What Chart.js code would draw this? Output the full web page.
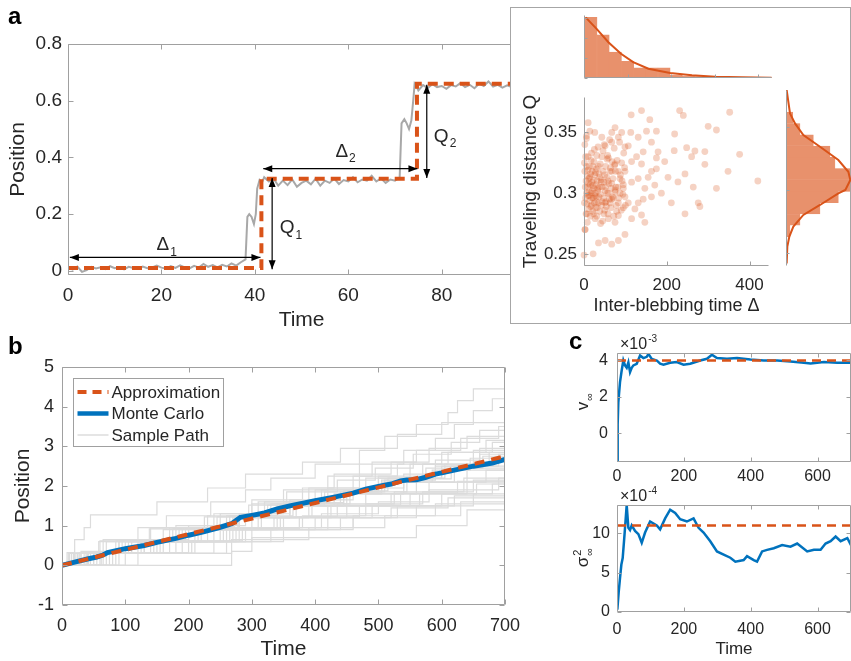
<!DOCTYPE html>
<html>
<head>
<meta charset="utf-8">
<script src="https://cdn.jsdelivr.net/npm/chart.js@4.4.1/dist/chart.umd.min.js"></script>
<style>
  body { margin: 0; background: #fff; }
  #page { position: relative; width: 851px; height: 661px; overflow: hidden; background: #fff; }
  canvas { position: absolute; }
  .lbl { position: absolute; font: bold 24px "Liberation Sans", Arial, sans-serif; line-height: 1; color: #000; }
  #inset { position: absolute; left: 510px; top: 7px; width: 339px; height: 315px; border: 1px solid #a6a6a6; background: #fff; }
</style>
</head>
<body>
<div id="page">
  <canvas id="ca" style="left:0;top:0" width="560" height="340"></canvas>
  <div id="inset"></div>
  <canvas id="hx" style="left:505px;top:0" width="275" height="85"></canvas>
  <canvas id="sc" style="left:505px;top:80px" width="275" height="240"></canvas>
  <canvas id="hy" style="left:780px;top:80px" width="75" height="190"></canvas>
  <canvas id="cb" style="left:0;top:340px" width="560" height="321"></canvas>
  <canvas id="c1" style="left:560px;top:330px" width="295" height="165"></canvas>
  <canvas id="c2" style="left:560px;top:480px" width="295" height="181"></canvas>
  <div class="lbl" style="left:8px;top:4px">a</div>
  <div class="lbl" style="left:8px;top:334px">b</div>
  <div class="lbl" style="left:569px;top:329px">c</div>
</div>
<script>
// ---- data ----

// panel a: one blebbing trace (time, position)
const traceA = [[0,0.012],[1,0.004],[2,0.015],[3,-0.004],[4,0.002],[5,0.014],[6,0.008],[7,0.012],[8,0.006],[9,0.016],
  [10,0.009],[11,0.013],[12,0.005],[13,0.014],[14,0.01],[15,0.007],[16,0.015],[17,0.009],[18,0.012],[19,0.018],
  [20,0.011],[21,0.007],[22,0.016],[23,0.01],[24,0.019],[25,0.012],[26,0.008],[27,0.017],[28,0.011],[29,0.024],
  [30,0.014],[31,0.02],[32,0.012],[33,0.021],[34,0.015],[35,0.026],[36,0.018],[37,0.03],[38,0.04],
  [38.4,0.19],[38.8,0.2],[39.3,0.19],[39.8,0.165],[40.2,0.2],[40.5,0.29],[41,0.32],[41.5,0.31],[42,0.33],[43,0.315],
  [44,0.326],[45,0.3],[46,0.318],[47,0.302],[48,0.322],[49,0.296],[50,0.31],[51,0.318],[52,0.305],[53,0.325],
  [54,0.3],[55,0.318],[56,0.31],[57,0.325],[58,0.306],[59,0.32],[60,0.315],[61,0.33],[62,0.312],[63,0.322],
  [64,0.318],[65,0.335],[66,0.315],[67,0.326],[68,0.31],[69,0.322],[70,0.318],[71,0.33],
  [71.4,0.52],[72,0.535],[72.5,0.52],[73,0.5],[73.5,0.53],[73.9,0.6],[74.2,0.66],[74.6,0.65],[75,0.636],
  [76,0.655],[77,0.645],[78,0.658],[79,0.648],[80,0.652],[81,0.642],[82,0.655],[83,0.65],[84,0.662],[85,0.648],
  [86,0.656],[87,0.644],[88,0.66],[89,0.652],[90,0.668],[91,0.65],[92,0.656],[93,0.646],[94,0.654],[95,0.648],
  [96,0.66],[97,0.65],[98,0.655],[99,0.645],[100,0.652]];
// step approximation: jump times and levels
const stepA = [[0,0.01],[41.4,0.325],[74.7,0.66],[100,0.66]];
const arrowsA = [[0.4,0.047,41.2,0.047],[41.8,0.36,74.8,0.36],[43.7,0.005,43.7,0.327],[76.8,0.327,76.8,0.656]];
const notesA = [['Δ','1',20.3,0.096],['Δ','2',58.6,0.427],['Q','1',46.9,0.156],['Q','2',79.9,0.48]];

// inset: inter-blebbing time vs traveling distance
const blebPts = [[2,0.318],[3,0.305],[4,0.296],[5,0.31],[5,0.283],[6,0.322],[6,0.3],[7,0.291],[8,0.314],[8,0.276],
  [9,0.305],[10,0.33],[10,0.298],[11,0.287],[12,0.312],[12,0.301],[13,0.322],[14,0.294],[15,0.307],[15,0.281],
  [16,0.316],[17,0.3],[18,0.333],[18,0.29],[19,0.309],[20,0.302],[20,0.318],[21,0.285],[22,0.296],[23,0.311],
  [24,0.326],[24,0.304],[25,0.292],[26,0.315],[27,0.3],[28,0.288],[29,0.307],[30,0.32],[30,0.297],[31,0.281],
  [32,0.31],[33,0.302],[34,0.338],[35,0.292],[36,0.316],[37,0.305],[38,0.285],[39,0.324],[40,0.299],[41,0.311],
  [42,0.29],[43,0.33],[44,0.305],[45,0.277],[46,0.318],[47,0.296],[48,0.309],[49,0.34],[50,0.286],[51,0.302],
  [52,0.322],[53,0.293],[55,0.313],[56,0.3],[57,0.331],[58,0.283],[60,0.308],[61,0.295],[62,0.344],[63,0.318],
  [65,0.288],[66,0.304],[68,0.326],[69,0.297],[70,0.312],[72,0.281],[73,0.337],[75,0.301],[76,0.318],[78,0.29],
  [80,0.327],[82,0.305],[84,0.296],[86,0.342],[88,0.315],[90,0.286],[92,0.31],[94,0.299],[96,0.333],[98,0.321],
  [100,0.29],[1,0.325],[1,0.292],[2,0.34],[3,0.27],[4,0.33],[6,0.345],[7,0.283],[9,0.319],[11,0.308],
  [13,0.298],[14,0.313],[16,0.289],[17,0.327],[19,0.296],[21,0.306],[22,0.322],[23,0.283],[25,0.336],[26,0.298],
  [27,0.279],[28,0.317],[29,0.293],[31,0.331],[32,0.288],[34,0.304],[35,0.322],[36,0.297],[38,0.313],[40,0.275],
  [42,0.309],[44,0.293],[46,0.335],[48,0.283],[50,0.315],[52,0.305],[54,0.289],[56,0.328],[58,0.31],[59,0.3],
  [63,0.292],[64,0.321],[67,0.308],[71,0.296],[74,0.323],[77,0.305],[79,0.285],[83,0.318],[87,0.3],[91,0.325],
  [95,0.307],[99,0.338],[114,0.3645],[139,0.368],[231,0.368],[240,0.364],[352,0.3666],[300,0.355],[320,0.352],
  [159,0.3605],[75,0.354],[10,0.358],[219,0.3487],[248,0.3374],[268,0.3347],[292,0.3342],[292,0.3237],[260,0.33],
  [244,0.3158],[227,0.3092],[264,0.305],[276,0.292],[280,0.289],[320,0.304],[348,0.318],[376,0.332],[420,0.31],
  [244,0.283],[211,0.292],[203,0.313],[195,0.326],[218,0.335],[187,0.3],[175,0.32],[113,0.35],[131,0.346],
  [151,0.351],[175,0.351],[179,0.334],[175,0.329],[163,0.342],[143,0.334],[127,0.33],[115,0.326],[107,0.339],
  [139,0.324],[163,0.318],[155,0.313],[131,0.312],[115,0.309],[95,0.304],[147,0.304],[171,0.3066],[163,0.297],
  [143,0.295],[131,0.292],[123,0.287],[139,0.282],[147,0.276],[115,0.279],[99,0.266],[83,0.261],[67,0.258],
  [51,0.261],[35,0.259],[22,0.25],[0,0.249],[2,0.27],[95,0.288],[83,0.2816],[75,0.276],[59,0.279],[51,0.292],
  [67,0.295],[83,0.292],[99,0.297],[107,0.292],[75,0.3026],[87,0.312],[99,0.318],[75,0.324],[67,0.318],[59,0.329],
  [51,0.339],[67,0.342],[43,0.346],[26,0.35],[14,0.351],[6,0.347],[91,0.35],[83,0.346],[67,0.35]];
// marginal histogram of inter-blebbing time (bin centres, heights) and fitted exponential
const timeBins = [16,44,72,100,128,156,184,212,240,268,296,324,352,380,408];
const timeCounts = [183,130,78,50,31,31,31,9,6,4,3,2,1.5,1,1];
const timeFitX = [3.8,29,56,85,113,148,198,248,301,362,431];
const timeFitY = [183,148,108,73,48,28,15,8,4,2,1];
// marginal histogram of traveling distance and fitted gaussian
const distBins = [0.2587,0.2677,0.2766,0.2856,0.2945,0.3034,0.3124,0.3213,0.3302,0.3392,0.3481,0.3571];
const distCounts = [3,12,42,102,157,192,192,147,132,82,42,20];
const distFitQ = [0.379,0.3605,0.3526,0.3434,0.3342,0.3237,0.3144,0.3079,0.3,0.2974,0.2882,0.2803,0.2711,0.2632,0.2553,0.2421];
const distFitN = [2,12,27,52,102,157,187,193,178,157,102,52,22,10,4,2];

// panel b: sample paths as (jump time, level)
const samplePaths = [
  [[0,0],[25,0.3],[60,0.62],[120,0.95],[165,1.25],[235,1.6],[290,1.9],[330,2.2],[400,2.55],[470,2.9],[510,3.25],[560,3.55],[610,3.85],[625,4.15],[650,4.45],[700,4.45]],
  [[0,0],[40,0.3],[100,0.6],[140,0.95],[230,1.25],[300,1.55],[350,1.9],[420,2.25],[470,2.55],[540,2.9],[590,3.2],[620,3.55],[650,3.9],[680,4.2],[700,4.2]],
  [[0,0],[8,0.32],[20,0.65],[35,0.95],[45,1.27],[150,1.6],[230,1.95],[290,2.3],[380,2.6],[440,2.95],[530,3.3],[600,3.6],[700,3.6]],
  [[0,0],[55,0.3],[130,0.65],[200,0.95],[280,1.3],[310,1.6],[390,1.95],[460,2.25],[490,2.6],[560,2.9],[630,3.2],[690,3.5],[700,3.5]],
  [[0,0],[30,0.35],[90,0.65],[180,1.0],[240,1.3],[300,1.65],[380,1.95],[430,2.3],[520,2.6],[580,2.95],[640,3.25],[700,3.25]],
  [[0,0],[15,0.3],[70,0.6],[160,0.9],[260,1.25],[340,1.55],[400,1.9],[480,2.2],[550,2.55],[610,2.85],[670,3.15],[700,3.15]],
  [[0,0],[45,0.3],[110,0.6],[190,0.95],[270,1.25],[320,1.6],[410,1.9],[500,2.25],[570,2.55],[650,2.9],[700,2.9]],
  [[0,0],[60,0.32],[150,0.62],[210,0.95],[250,1.3],[350,1.6],[420,1.95],[470,2.25],[530,2.55],[600,2.85],[680,3.1],[700,3.1]],
  [[0,0],[20,0.3],[120,0.6],[230,0.9],[280,1.2],[370,1.5],[450,1.85],[510,2.15],[590,2.5],[660,2.8],[700,2.8]],
  [[0,0],[35,0.32],[65,0.65],[170,0.95],[265,1.25],[330,1.55],[440,1.85],[500,2.2],[600,2.5],[690,2.8],[700,2.8]],
  [[0,0],[50,0.3],[140,0.6],[220,0.9],[300,1.2],[360,1.5],[430,1.8],[540,2.1],[620,2.45],[700,2.45]],
  [[0,0],[75,0.3],[160,0.6],[240,0.9],[310,1.2],[390,1.5],[480,1.8],[560,2.1],[640,2.4],[700,2.4]],
  [[0,0],[25,0.3],[130,0.6],[260,0.9],[350,1.2],[420,1.5],[520,1.8],[580,2.1],[670,2.4],[700,2.4]],
  [[0,0],[90,0.3],[170,0.6],[255,0.9],[340,1.2],[450,1.5],[550,1.8],[640,2.1],[700,2.1]],
  [[0,0],[40,0.32],[200,0.62],[270,0.95],[380,1.25],[480,1.55],[570,1.85],[650,2.15],[700,2.15]],
  [[0,0],[65,0.3],[180,0.6],[290,0.9],[400,1.2],[490,1.5],[600,1.8],[680,2.05],[700,2.05]],
  [[0,0],[100,0.3],[210,0.6],[275,0.9],[420,1.2],[530,1.5],[620,1.75],[700,1.75]],
  [[0,0],[30,0.3],[240,0.6],[330,0.9],[460,1.2],[560,1.5],[650,1.8],[700,1.8]],
  [[0,0],[120,0.3],[268,0.65],[390,0.95],[510,1.25],[630,1.6],[700,1.6]],
  [[0,0],[268,0.35],[300,0.7],[560,1.0],[640,1.4],[700,1.4]],
  [[0,0],[80,0.3],[260,0.6],[350,0.9],[440,1.2],[520,1.45],[610,1.7],[700,1.7]],
  [[0,0],[10,0.3],[90,0.6],[280,0.95],[460,1.25],[590,1.55],[700,1.55]],
  [[0,0],[50,0.3],[110,0.65],[200,1.0],[290,1.3],[360,1.65],[460,1.95],[540,2.3],[590,2.65],[660,2.95],[700,2.95]],
  [[0,0],[70,0.3],[190,0.6],[300,0.95],[410,1.3],[500,1.6],[580,1.9],[690,2.2],[700,2.2]],
  [[0,0],[18,0.3],[95,0.62],[175,0.92],[245,1.22],[325,1.52],[415,1.85],[505,2.15],[575,2.45],[665,2.75],[700,2.75]],
  [[0,0],[42,0.3],[125,0.6],[215,0.92],[315,1.22],[395,1.55],[455,1.85],[545,2.18],[615,2.5],[700,2.5]],
  [[0,0],[28,0.32],[85,0.62],[195,0.92],[278,1.25],[365,1.58],[445,1.88],[515,2.2],[605,2.55],[675,2.85],[700,2.85]],
  [[0,0],[62,0.3],[145,0.6],[250,0.9],[335,1.2],[425,1.52],[535,1.82],[625,2.12],[700,2.12]],
  [[0,0],[12,0.3],[58,0.6],[138,0.92],[225,1.22],[295,1.52],[355,1.85],[435,2.15],[495,2.45],[555,2.8],[615,3.1],[660,3.4],[700,3.4]],
  [[0,0],[85,0.3],[205,0.62],[285,0.92],[375,1.22],[470,1.5],[565,1.8],[655,2.05],[700,2.05]],
  [[0,0],[38,0.3],[155,0.6],[265,0.92],[345,1.22],[435,1.55],[525,1.85],[635,2.2],[700,2.2]],
  [[0,0],[22,0.3],[105,0.6],[185,0.9],[272,1.2],[360,1.5],[445,1.8],[505,2.1],[585,2.4],[645,2.7],[700,2.7]]
];
const mcT = [0,20,40,55,65,72,100,130,150,180,200,225,250,268,275,282,300,320,340,360,400,430,460,480,500,520,535,545,560,575,590,600,620,650,680,700];
const mcY = [0,0.08,0.16,0.21,0.26,0.32,0.42,0.5,0.58,0.68,0.76,0.85,0.96,1.05,1.13,1.21,1.26,1.32,1.42,1.5,1.63,1.72,1.82,1.92,1.99,2.05,2.13,2.15,2.16,2.22,2.3,2.33,2.4,2.5,2.58,2.67];
const apxT = [0,700];
const apxY = [0,2.75];

// panel c: running estimates (x1e-3 and x1e-4)
const vT = [1,2,4,9,14,19,24,29,34,39,44,49,59,69,79,89,94,104,119,129,139,159,179,199,219,249,269,284,299,329,359,399,439,479,519,559,579,619,659,700];
const vY = [-1.5,0.5,1.72,2.81,3.45,4.0,3.73,3.6,3.9,3.36,3.6,3.73,3.82,4.27,4.13,4.2,4.36,4.09,4.0,3.82,3.77,3.87,3.91,3.77,3.82,4.0,4.09,4.31,4.13,4.09,4.13,4.05,4.0,4.0,3.95,3.87,3.84,3.91,3.87,3.87];
const vTheory = 4.0;
const vTicks = [0, 2, 4];
const sT = [1,5,9,13,17,21,24,29,34,39,44,54,64,74,84,99,119,129,144,159,174,189,209,229,244,259,279,299,319,339,354,379,389,409,419,434,449,469,494,519,539,569,589,609,624,639,654,669,689,700];
const sY = [0.3,2.5,4.3,6.0,6.85,9.0,10.7,13.6,10.7,10.4,11.0,10.3,9.9,8.8,10.1,11.5,11.0,10.5,11.9,13.0,12.6,11.8,11.5,11.9,10.7,10.1,9.0,7.7,7.3,6.9,6.4,6.6,7.1,6.6,6.4,7.7,7.9,8.1,8.5,8.3,8.7,7.7,7.9,7.9,8.7,9.0,9.6,9.0,9.4,8.5];
const sTheory = 11.0;

// ---- styling ----
const FONT = '"Liberation Sans", Arial, Helvetica, sans-serif';
const ORANGE = '#D95319';
const BLUE = '#0072BD';
const HIST = '#e8916c';
const AXIS = '#a0a0a0';
const TXT = '#262626';

Chart.defaults.font.family = FONT;
Chart.defaults.color = TXT;
Chart.defaults.animation = false;
Chart.defaults.responsive = false;
Chart.defaults.plugins.legend.display = false;
Chart.defaults.plugins.tooltip.enabled = false;
Chart.defaults.elements.point.radius = 0;
Chart.defaults.elements.line.tension = 0;

const xy = pts => pts.map(p => ({ x: p[0], y: p[1] }));
const zip = (a, b) => a.map((v, i) => ({ x: v, y: b[i] }));

// linear axis with a fixed band size so plot areas land where they should
function axis(o) {
  return {
    type: 'linear', min: o.min, max: o.max, offset: false,
    grid: { display: false, drawTicks: false }, border: { display: false },
    ticks: { padding: o.pad || 0, font: { size: o.size || 12 },
      display: o.labels !== false, autoSkip: false, maxRotation: 0,
      callback: v => String(+v.toFixed(4)) },
    // ticks at every multiple of the step inside the range
    afterBuildTicks: s => {
      const out = [];
      for (let k = Math.ceil(o.min / o.step - 1e-9); k * o.step <= o.max + 1e-9; k++) {
        out.push({ value: +(k * o.step).toFixed(6) });
      }
      s.ticks = out;
    },
    afterFit: s => { if (s.isHorizontal()) s.height = o.band; else s.width = o.band; },
    title: o.title
      ? { display: true, text: o.title, font: { size: o.tsize, lineHeight: o.lh || 1.2 }, padding: o.tpad }
      : { display: false }
  };
}

// matlab-like frame with inward ticks
const frame = {
  id: 'frame',
  afterDatasetsDraw(chart, args, o) {
    const { ctx, chartArea: a } = chart;
    const sides = o.sides || 'lbtr';
    const len = o.len || 5;
    const sx = chart.scales.x, sy = chart.scales.y;
    const yVals = o.yTicks || sy.ticks.map(t => t.value);
    ctx.save();
    ctx.strokeStyle = AXIS;
    ctx.lineWidth = 1;
    ctx.beginPath();
    const L = Math.round(a.left) + 0.5, R = Math.round(a.right) - 0.5;
    const T = Math.round(a.top) + 0.5, B = Math.round(a.bottom) - 0.5;
    if (sides.includes('l')) { ctx.moveTo(L, T); ctx.lineTo(L, B); }
    if (sides.includes('r')) { ctx.moveTo(R, T); ctx.lineTo(R, B); }
    if (sides.includes('t')) { ctx.moveTo(L, T); ctx.lineTo(R, T); }
    if (sides.includes('b')) { ctx.moveTo(L, B); ctx.lineTo(R, B); }
    sx.ticks.forEach(t => {
      const p = Math.round(sx.getPixelForValue(t.value)) + 0.5;
      if (sides.includes('b')) { ctx.moveTo(p, B); ctx.lineTo(p, B - len); }
      if (sides.includes('t')) { ctx.moveTo(p, T); ctx.lineTo(p, T + len); }
    });
    yVals.forEach(v => {
      const p = Math.round(sy.getPixelForValue(v)) + 0.5;
      if (sides.includes('l')) { ctx.moveTo(L, p); ctx.lineTo(L + len, p); }
      if (sides.includes('r')) { ctx.moveTo(R, p); ctx.lineTo(R - len, p); }
    });
    ctx.stroke();
    // tick labels drawn here when the axis asks for it
    if (o.yLabels) {
      ctx.fillStyle = TXT;
      ctx.font = o.yLabels.size + 'px ' + FONT;
      ctx.textAlign = 'right';
      ctx.textBaseline = 'middle';
      yVals.forEach(v => ctx.fillText(String(v), a.left - o.yLabels.pad, sy.getPixelForValue(v)));
    }
    ctx.restore();
  }
};

// text with sub/superscript, (x, y) is the baseline start (or centre of the whole thing)
function richText(ctx, x, y, base, sub, sup, size, center) {
  const small = Math.round(size * 0.65);
  ctx.font = size + 'px ' + FONT;
  const wb = ctx.measureText(base).width;
  ctx.font = small + 'px ' + FONT;
  const ws = Math.max(sub ? ctx.measureText(sub).width : 0, sup ? ctx.measureText(sup).width : 0);
  const x0 = center ? x - (wb + ws) / 2 : x;
  ctx.textAlign = 'left';
  ctx.textBaseline = 'alphabetic';
  ctx.fillStyle = TXT;
  ctx.font = size + 'px ' + FONT;
  ctx.fillText(base, x0, y);
  ctx.font = small + 'px ' + FONT;
  if (sub) ctx.fillText(sub, x0 + wb + 1, y + size * 0.3);
  if (sup) ctx.fillText(sup, x0 + wb + 1, y - size * 0.42);
}

// double headed arrows and Δ/Q labels for panel a
const annot = {
  id: 'annot',
  afterDatasetsDraw(chart) {
    const { ctx } = chart;
    const sx = chart.scales.x, sy = chart.scales.y;
    ctx.save();
    ctx.strokeStyle = '#000';
    ctx.fillStyle = '#000';
    ctx.lineWidth = 1.2;
    const head = (x, y, ang) => {
      ctx.beginPath();
      ctx.moveTo(x, y);
      ctx.lineTo(x - 9 * Math.cos(ang) + 3.5 * Math.sin(ang), y - 9 * Math.sin(ang) - 3.5 * Math.cos(ang));
      ctx.lineTo(x - 9 * Math.cos(ang) - 3.5 * Math.sin(ang), y - 9 * Math.sin(ang) + 3.5 * Math.cos(ang));
      ctx.closePath();
      ctx.fill();
    };
    arrowsA.forEach(a => {
      const x1 = sx.getPixelForValue(a[0]), y1 = sy.getPixelForValue(a[1]);
      const x2 = sx.getPixelForValue(a[2]), y2 = sy.getPixelForValue(a[3]);
      const ang = Math.atan2(y2 - y1, x2 - x1);
      ctx.beginPath();
      ctx.moveTo(x1, y1);
      ctx.lineTo(x2, y2);
      ctx.stroke();
      head(x2, y2, ang);
      head(x1, y1, ang + Math.PI);
    });
    notesA.forEach(n => {
      const size = 19;
      ctx.font = size + 'px ' + FONT;
      const w = ctx.measureText(n[0]).width;
      const px = sx.getPixelForValue(n[2]), py = sy.getPixelForValue(n[3]);
      richText(ctx, px - w / 2, py + size * 0.36, n[0], n[1], null, size, false);
    });
    ctx.restore();
  }
};

// legend box of panel b
const boxLegend = {
  id: 'boxLegend',
  afterDraw(chart, args, o) {
    const { ctx, chartArea: a } = chart;
    const x = Math.round(a.left + 11) + 0.5, y = Math.round(a.top + 11) + 0.5;
    ctx.save();
    ctx.fillStyle = '#fff';
    ctx.strokeStyle = AXIS;
    ctx.lineWidth = 1;
    ctx.fillRect(x, y, 150, 68);
    ctx.strokeRect(x, y, 150, 68);
    o.items.forEach((it, i) => {
      const ly = y + 13.5 + i * 21.5;
      ctx.beginPath();
      ctx.strokeStyle = it.color;
      ctx.lineWidth = it.width;
      ctx.setLineDash(it.dash || []);
      ctx.moveTo(x + 4, ly);
      ctx.lineTo(x + 35, ly);
      ctx.stroke();
      ctx.setLineDash([]);
      ctx.fillStyle = TXT;
      ctx.font = '17px ' + FONT;
      ctx.textBaseline = 'middle';
      ctx.fillText(it.text, x + 38, ly + 1);
    });
    ctx.restore();
  }
};

// y label with sub/superscripts and the x10^k factor for panel c
const cLabels = {
  id: 'cLabels',
  afterDraw(chart, args, o) {
    const { ctx } = chart;
    ctx.save();
    ctx.translate(o.lx, o.ly);
    ctx.rotate(-Math.PI / 2);
    richText(ctx, 0, 6, o.base, o.sub, o.sup, 17, true);
    ctx.restore();
    ctx.save();
    richText(ctx, o.fx, o.fy, '×10', null, o.exp, 16, false);
    ctx.restore();
  }
};

const el = id => document.getElementById(id);

// ---- panel a ----
new Chart(el('ca'), {
  type: 'line',
  data: { datasets: [
    { data: xy(stepA), borderColor: ORANGE, borderWidth: 4, borderDash: [10, 6], stepped: true },
    { data: xy(traceA), borderColor: '#a8a8a8', borderWidth: 2 }
  ] },
  options: {
    layout: { padding: { top: 44, right: 15, left: 0, bottom: 0 } },
    scales: {
      x: axis({ min: 0, max: 100, step: 20, pad: 9, size: 19, band: 65, title: 'Time', tsize: 21, tpad: { top: 0, bottom: 7 } }),
      y: axis({ min: -0.015, max: 0.8, step: 0.2, pad: 6, size: 19, band: 68, title: 'Position', tsize: 21, tpad: { top: 6, bottom: 0 } })
    },
    plugins: { frame: { sides: 'lbtr', len: 5 } }
  },
  plugins: [frame, annot]
});

// ---- inset: top histogram ----
new Chart(el('hx'), {
  type: 'bar',
  data: { datasets: [
    { type: 'line', data: zip(timeFitX, timeFitY), borderColor: ORANGE, borderWidth: 2 },
    { data: zip(timeBins, timeCounts), backgroundColor: HIST, borderColor: HIST, borderWidth: 0.5,
      barPercentage: 1, categoryPercentage: 1 }
  ] },
  options: {
    layout: { padding: { top: 15, right: 8, left: 0, bottom: 0 } },
    scales: {
      x: axis({ min: 0, max: 432, step: 100, band: 7, labels: false }),
      y: axis({ min: 0, max: 190, step: 60, band: 79, labels: false })
    },
    plugins: { frame: { sides: 'lb', len: 3 } }
  },
  plugins: [frame]
});

// ---- inset: scatter ----
new Chart(el('sc'), {
  type: 'scatter',
  data: { datasets: [
    { data: xy(blebPts), pointRadius: 3.4, pointBorderWidth: 0, pointBackgroundColor: 'rgba(217,83,25,0.26)', clip: false }
  ] },
  options: {
    layout: { padding: { top: 10, right: 11, left: 0, bottom: 0 } },
    scales: {
      x: axis({ min: 0, max: 447, step: 200, pad: 9, size: 17, band: 54, title: 'Inter-blebbing time Δ', tsize: 18, tpad: { top: 0, bottom: 3 } }),
      y: axis({ min: 0.24, max: 0.379, step: 0.05, pad: 7, size: 17, band: 79, title: 'Traveling distance Q', tsize: 19, tpad: { top: 14, bottom: 0 } })
    },
    plugins: { frame: { sides: 'lb', len: 4 } }
  },
  plugins: [frame]
});

// ---- inset: right histogram ----
new Chart(el('hy'), {
  type: 'bar',
  data: { datasets: [
    { type: 'line', indexAxis: 'y', data: zip(distFitN, distFitQ), borderColor: ORANGE, borderWidth: 2 },
    { indexAxis: 'y', data: zip(distCounts, distBins), backgroundColor: HIST, borderColor: HIST, borderWidth: 0.5,
      barPercentage: 1, categoryPercentage: 1 }
  ] },
  options: {
    indexAxis: 'y',
    layout: { padding: { top: 10, right: 4, left: 0, bottom: 0 } },
    scales: {
      x: axis({ min: 0, max: 195, step: 100, band: 4, labels: false }),
      y: axis({ min: 0.24, max: 0.379, step: 0.05, band: 6, labels: false })
    },
    plugins: { frame: { sides: 'l', len: 3 } }
  },
  plugins: [frame]
});

// ---- panel b ----
const pathSets = samplePaths.map(p => ({ data: xy(p), borderColor: '#dcdcdc', borderWidth: 1.2, stepped: true }));
new Chart(el('cb'), {
  type: 'line',
  data: { datasets: [
    { data: zip(apxT, apxY), borderColor: ORANGE, borderWidth: 4, borderDash: [10, 7] },
    { data: zip(mcT, mcY), borderColor: BLUE, borderWidth: 5 }
  ].concat(pathSets) },
  options: {
    layout: { padding: { top: 27, right: 55, left: 0, bottom: 0 } },
    scales: {
      x: axis({ min: 0, max: 700, step: 100, pad: 10, size: 18, band: 56, title: 'Time', tsize: 21, lh: 1, tpad: { top: 0, bottom: 1 } }),
      y: axis({ min: -1, max: 5, step: 1, pad: 8, size: 18, band: 62, title: 'Position', tsize: 21, tpad: { top: 11, bottom: 0 } })
    },
    plugins: {
      frame: { sides: 'lbtr', len: 5 },
      boxLegend: { items: [
        { text: 'Approximation', color: ORANGE, width: 4, dash: [9, 6] },
        { text: 'Monte Carlo', color: BLUE, width: 4.5 },
        { text: 'Sample Path', color: '#dcdcdc', width: 1.5 }
      ] }
    }
  },
  plugins: [frame, boxLegend]
});

// ---- panel c, top (y tick labels from vTicks) ----
new Chart(el('c1'), {
  type: 'line',
  data: { datasets: [
    { data: zip([0, 700], [vTheory, vTheory]), borderColor: ORANGE, borderWidth: 2.5, borderDash: [9, 6] },
    { data: zip(vT, vY), borderColor: BLUE, borderWidth: 2.5 }
  ] },
  options: {
    layout: { padding: { top: 23, right: 4, left: 0, bottom: 0 } },
    scales: {
      x: axis({ min: 0, max: 700, step: 200, pad: 5, size: 16, band: 33 }),
      y: axis({ min: -1.57, max: 4.41, step: 2, pad: 9, size: 16, band: 57, labels: false })
    },
    plugins: {
      frame: { sides: 'lbtr', len: 4, yTicks: vTicks, yLabels: { size: 16, pad: 9 } },
      cLabels: { lx: 22, ly: 72, base: 'v', sub: '∞', sup: null, fx: 60, fy: 19, exp: '-3' }
    }
  },
  plugins: [frame, cLabels]
});

// ---- panel c, bottom ----
new Chart(el('c2'), {
  type: 'line',
  data: { datasets: [
    { data: zip([0, 700], [sTheory, sTheory]), borderColor: ORANGE, borderWidth: 2.5, borderDash: [9, 6] },
    { data: zip(sT, sY), borderColor: BLUE, borderWidth: 2.5 }
  ] },
  options: {
    layout: { padding: { top: 25, right: 4, left: 0, bottom: 0 } },
    scales: {
      x: axis({ min: 0, max: 700, step: 200, pad: 8, size: 16, band: 49, title: 'Time', tsize: 17, tpad: { top: 0, bottom: 1 } }),
      y: axis({ min: 0, max: 13.6, step: 5, pad: 7, size: 16, band: 57 })
    },
    plugins: {
      frame: { sides: 'lbtr', len: 4 },
      cLabels: { lx: 22, ly: 78, base: 'σ', sub: '∞', sup: '2', fx: 60, fy: 21, exp: '-4' }
    }
  },
  plugins: [frame, cLabels]
});
</script>
</body>
</html>
